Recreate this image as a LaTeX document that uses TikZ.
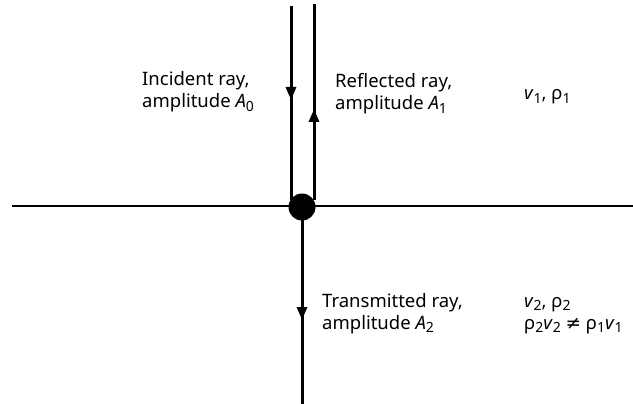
\documentclass[tikz,border=0pt]{standalone}
\usepackage{fontspec}
\setmainfont{Noto Sans}
\newfontfamily\symfont{DejaVu Sans}
\usetikzlibrary{arrows.meta}
\newcommand{\lowsub}[1]{\raisebox{-0.4ex}{\fontsize{14}{15}\selectfont #1}}
\begin{document}
\begin{tikzpicture}[x=1pt,y=-1pt,
  ray/.style={line width=3pt},
  tip/.style={-{Stealth[length=13pt,width=10pt,inset=0pt]}},
  lbl/.style={anchor=base west,inner sep=0pt,font=\fontsize{18.5}{21}\selectfont,align=left}]
\useasboundingbox (0,0) rectangle (633,404);
% coordinates
\coordinate (ltop) at (291,6);
\coordinate (larr) at (291,100);
\coordinate (lbot) at (291,200);
\coordinate (rtop) at (314,4);
\coordinate (rarr) at (314,109);
\coordinate (rbot) at (314,200);
\coordinate (hl) at (12,206);
\coordinate (hr) at (633,206);
\coordinate (tarr) at (302,320);
\coordinate (tbot) at (302,404);
\node[circle,fill=black,minimum size=27pt,inner sep=0pt] (dot) at (302,207) {};
% lines
\draw[line width=1.5pt] (hl) -- (hr);
\draw[ray] (ltop) -- (lbot);
\draw[ray,tip] (ltop) -- (larr);
\draw[ray] (rbot) -- (rtop);
\draw[ray,tip] (rbot) -- (rarr);
\draw[ray] (dot.center) -- (tbot);
\draw[ray,tip] (dot.center) -- (tarr);
% labels
\node[lbl] (inc) at (142,86) {Incident ray,};
\node[lbl] (inca) at (142,108) {amplitude \textit{A}\lowsub{0}};
\node[lbl] (ref) at (335,88) {Reflected ray,};
\node[lbl] (refa) at (335,110) {amplitude \textit{A}\lowsub{1}};
\node[lbl] (m1) at (524,100) {\textit{v}\lowsub{1}, ρ\lowsub{1}};
\node[lbl] (tr) at (322,307) {Transmitted ray,};
\node[lbl] (tra) at (322,329) {amplitude \textit{A}\lowsub{2}};
\node[lbl] (m2) at (524,307) {\textit{v}\lowsub{2}, ρ\lowsub{2}};
\node[lbl] (m2b) at (524,329) {ρ\lowsub{2}\textit{v}\lowsub{2} {\symfont ≠} ρ\lowsub{1}\textit{v}\lowsub{1}};
\end{tikzpicture}
\end{document}
